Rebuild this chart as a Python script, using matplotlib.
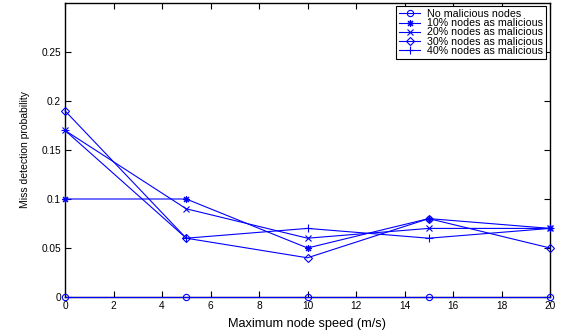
import matplotlib
matplotlib.use("Agg")
import matplotlib.pyplot as plt

speeds = [0, 5, 10, 15, 20]
labels = ["No malicious nodes", "10% nodes as malicious", "20% nodes as malicious",
          "30% nodes as malicious", "40% nodes as malicious"]
no_malicious = [0, 0, 0, 0, 0]
mal_10 = [0.10, 0.10, 0.05, 0.08, 0.07]
mal_20 = [0.17, 0.09, 0.06, 0.07, 0.07]
mal_30 = [0.19, 0.06, 0.04, 0.08, 0.05]
mal_40 = [0.17, 0.06, 0.07, 0.06, 0.07]
xticks = [0, 2, 4, 6, 8, 10, 12, 14, 16, 18, 20]
yticks = [0, 0.05, 0.1, 0.15, 0.2, 0.25]
ytick_labels = ["0", "0.05", "0.1", "0.15", "0.2", "0.25"]

plt.rcParams['font.family'] = ['Liberation Sans', 'DejaVu Sans']

fig = plt.figure(figsize=(5.63, 3.34), dpi=100)
ax = fig.add_axes([65/563, 1-297/334, (550-65)/563, (297-3)/334])

blue = (0, 0, 1)
series = [no_malicious, mal_10, mal_20, mal_30, mal_40]
markers = ['o', (8, 2, 0), 'x', 'D', '+']
msizes = [4.5, 5, 4, 4, 5.5]
for vals, lab, mk, ms in zip(series, labels, markers, msizes):
    ax.plot(speeds, vals, color=blue, lw=0.8, marker=mk, markersize=ms,
            markerfacecolor='none', markeredgecolor=blue, markeredgewidth=0.8,
            label=lab, clip_on=False, zorder=3)

ax.set_xlim(0, 20)
ax.set_ylim(0, 0.3)
ax.set_xticks(xticks)
ax.set_xticklabels([str(t) for t in xticks])
ax.set_yticks(yticks)
ax.set_yticklabels(ytick_labels)
ax.tick_params(direction='in', length=4, width=0.8, labelsize=7.3,
               top=True, right=True, pad=3)
for sp in ax.spines.values():
    sp.set_linewidth(1.0)

ax.set_xlabel("Maximum node speed (m/s)", fontsize=9.2, labelpad=5)
ax.set_ylabel("Miss detection probability", fontsize=7.5, labelpad=8)

leg = ax.legend(loc='upper right', bbox_to_anchor=(546/563, 1-6/334),
                bbox_transform=fig.transFigure, fontsize=7.7, frameon=True,
                fancybox=False, edgecolor='black', framealpha=1,
                handlelength=2.0, handletextpad=0.6, borderpad=0.3,
                labelspacing=-0.08, borderaxespad=0)
leg.get_frame().set_linewidth(0.8)

fig.savefig("out.png", dpi=100)
